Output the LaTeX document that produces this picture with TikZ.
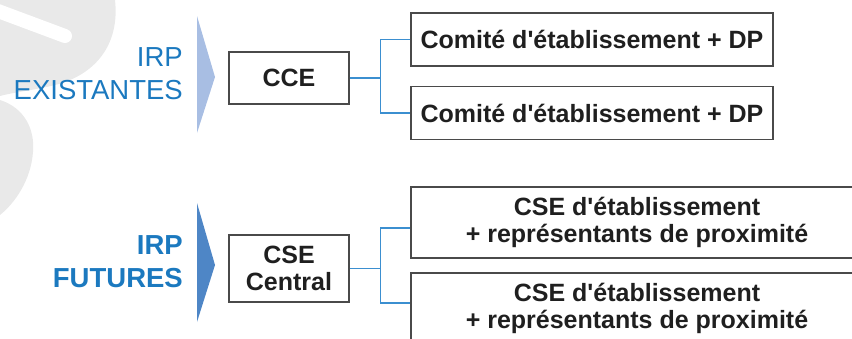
\documentclass[tikz,border=0pt]{standalone}
\usepackage{fontspec}
\setmainfont{Liberation Sans}
\usepackage{tikz}

\definecolor{irpblue}{HTML}{1B79BF}
\definecolor{lightarrow}{HTML}{A8BEE3}
\definecolor{darkarrow}{HTML}{4E86C6}
\definecolor{linkblue}{HTML}{3B8FD0}
\definecolor{boxgray}{HTML}{4A4A4A}
\definecolor{marque}{HTML}{E9E9E9}
\newcommand{\apos}{\textquotesingle}

\tikzset{
  box/.style={draw=boxgray, line width=1.3pt, inner sep=0pt, align=center,
    text=black!88, font=\fontsize{25}{27}\selectfont\bfseries},
  irp/.style={anchor=east, align=right, inner sep=0pt, text=irpblue,
    font=\fontsize{27.5}{33}\selectfont},
  link/.style={draw=linkblue, line width=1.2pt}
}

\begin{document}
\begin{tikzpicture}[x=1pt,y=-1pt]
    \useasboundingbox (0,0) rectangle (852,338);
    \clip (0,0) rectangle (852,338);
    \fill[marque] (0,0) -- (115,0) .. controls (120,45) and (95,75) .. (55,85)
        .. controls (35,90) and (15,92) .. (0,96) -- cycle;
    \fill[marque] (0,100) .. controls (25,108) and (35,130) .. (33,152)
        .. controls (31,180) and (15,203) .. (0,215) -- cycle;
    \draw[white, line width=14pt, line cap=round] (-10,8) -- (65,36);
    \fill[lightarrow] (197,16) -- (215,77) -- (197,133) -- cycle;
    \fill[darkarrow] (197,203) -- (215,265) -- (197,322) -- cycle;
    \node[irp] (existantes) at (183,73.5) {IRP\\EXISTANTES};
    \node[irp, font=\fontsize{27.5}{33}\selectfont\bfseries] (futures) at (183,261.5) {IRP\\FUTURES};
    \node[box, minimum width=120pt, minimum height=52pt] (cce) at (289,78) {CCE};
    \node[box, minimum width=362pt, minimum height=53pt] (ce1) at (592,39.5) {Comité d\apos établissement + DP};
    \node[box, minimum width=362pt, minimum height=53pt] (ce2) at (592,113) {Comité d\apos établissement + DP};
    \node[box, minimum width=120pt, minimum height=67pt] (cse) at (289,268.5) {CSE\\Central};
    \node[box, minimum width=452pt, minimum height=71pt] (etab1) at (637,222.5) {CSE d\apos établissement\\+ représentants de proximité};
    \node[box, minimum width=452pt, minimum height=71pt] (etab2) at (637,308.5) {CSE d\apos établissement\\+ représentants de proximité};
    \draw[link] (cce.east) -- ++(31,0) coordinate (fork1);
    \draw[link] (ce1.west) -| (fork1) |- (ce2.west);
    \draw[link] (cse.east) -- ++(31,0) coordinate (fork2);
    \draw[link] ([yshift=-5.5pt]etab1.west) -| (fork2) |- ([yshift=5.5pt]etab2.west);
\end{tikzpicture}
\end{document}
